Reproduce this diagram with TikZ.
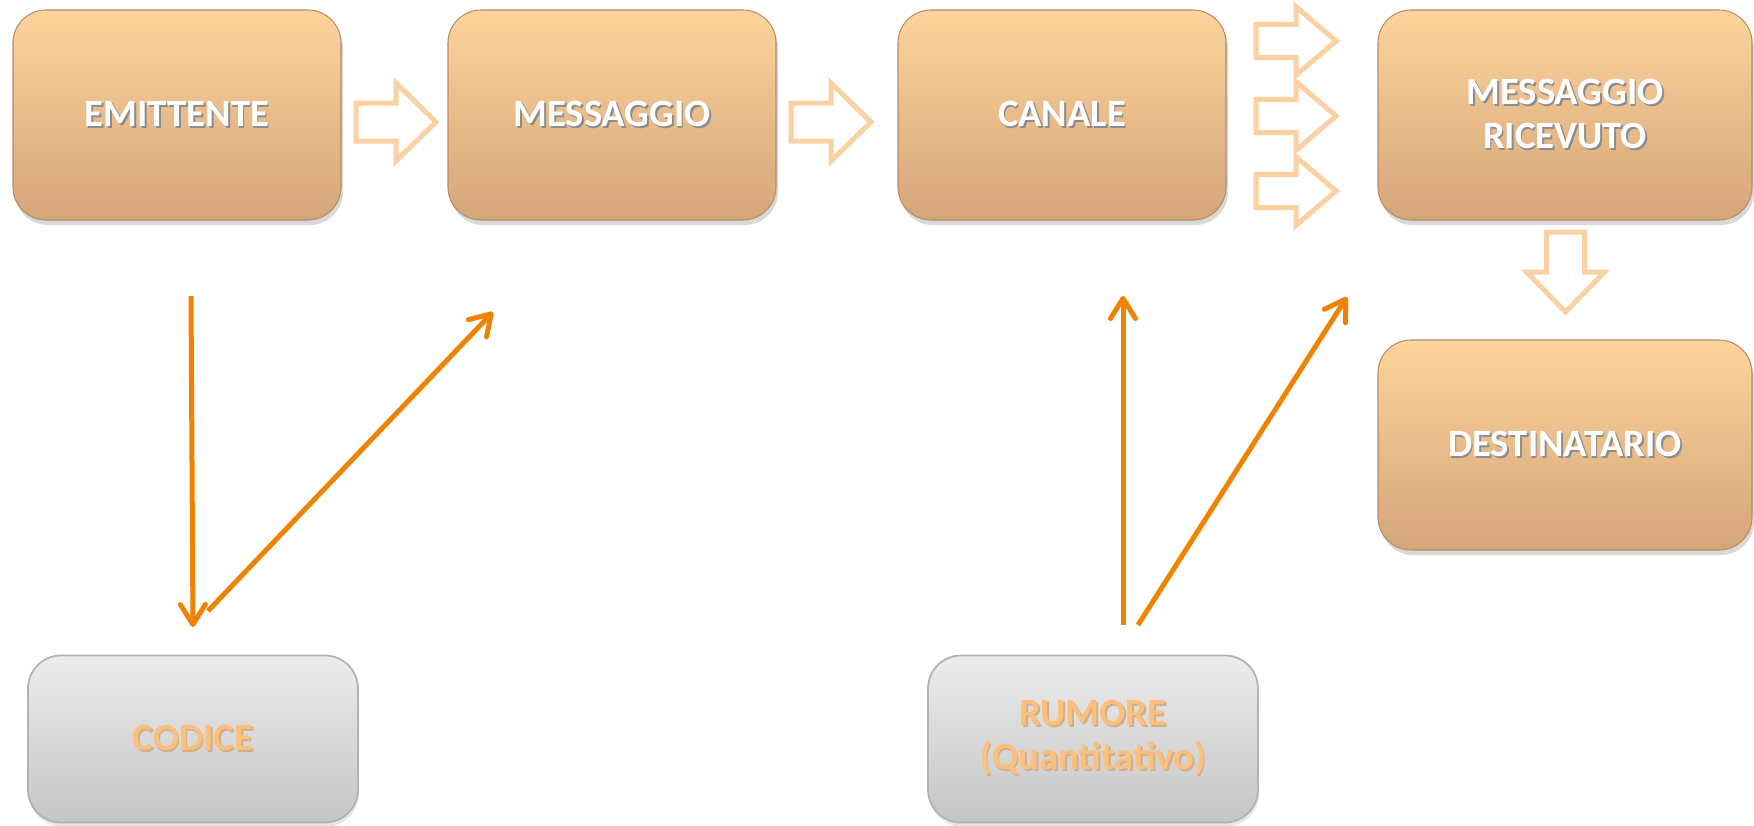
\documentclass[tikz,border=0pt]{standalone}
\usepackage{fontspec}
\setmainfont{Carlito}
\usetikzlibrary{arrows.meta,shadows}

\definecolor{peachtop}{RGB}{254,212,156}
\definecolor{peachbot}{RGB}{212,165,121}
\definecolor{peachline}{RGB}{251,208,162}
\definecolor{arrorange}{RGB}{237,131,0}
\definecolor{greytop}{RGB}{236,236,236}
\definecolor{greybot}{RGB}{197,197,197}
\definecolor{codtext}{RGB}{252,192,124}

% text with a small shadow under it
\newcommand{\shtext}[2]{\leavevmode\rlap{\kern0.5pt\raisebox{-0.6pt}{\color{#1}#2}}#2}

\begin{document}
\begin{tikzpicture}[
    peachbox/.style={rounded corners=0.33cm, minimum width=3.28cm, minimum height=2.1cm,
      inner sep=0pt, top color=peachtop, bottom color=peachbot, draw=peachbot!85!black,
      line width=0.3pt, text=white, align=center, font=\fontsize{11}{12.6}\selectfont\bfseries,
      drop shadow={shadow xshift=0.02cm, shadow yshift=-0.05cm, opacity=0.3}},
    greybox/.style={rounded corners=0.33cm, minimum width=3.3cm, minimum height=1.67cm,
      inner sep=0pt, top color=greytop, bottom color=greybot, draw=black!30,
      line width=0.5pt, text=codtext, align=center, font=\fontsize{11}{12.6}\selectfont\bfseries,
      drop shadow={shadow xshift=0.01cm, shadow yshift=-0.04cm, opacity=0.2}},
    hollow/.style={draw=peachline, line width=0.05cm, fill=white},
    flow/.style={draw=arrorange, line width=0.05cm, -{Straight Barb[length=0.2cm, width=0.25cm, round]}},
    pics/blockarrow/.style={code={
      \draw[hollow] (0,0.19) -- (0.4,0.19) -- (0.4,0.39) -- (0.8,0) -- (0.4,-0.39)
        -- (0.4,-0.19) -- (0,-0.19) -- cycle;}}
  ]
  \useasboundingbox (0,0) rectangle (17.54,-8.25);

  % top row
  \node[peachbox] (emittente) at (1.77,-1.15) {\shtext{black!45}{EMITTENTE}};
  \node[peachbox] (messaggio) at (6.12,-1.15) {\shtext{black!45}{MESSAGGIO}};
  \node[peachbox] (canale) at (10.62,-1.15) {\shtext{black!45}{CANALE}};
  \node[peachbox, minimum width=3.74cm] (ricevuto) at (15.65,-1.15)
    {\shtext{black!45}{MESSAGGIO}\\\shtext{black!45}{RICEVUTO}};
  \node[peachbox, minimum width=3.74cm] (destinatario) at (15.65,-4.45)
    {\shtext{black!45}{DESTINATARIO}};

  % bottom row
  \node[greybox] (codice) at (1.93,-7.39) {\shtext{orange!60!black!45}{CODICE}};
  \node[greybox] (rumore) at (10.93,-7.39)
    {\shtext{orange!60!black!45}{RUMORE}\\\shtext{orange!60!black!45}{(Quantitativo)}};

  % block arrows
  \pic at (3.56,-1.22) {blockarrow};
  \pic at (7.91,-1.22) {blockarrow};
  \foreach \y in {-0.41,-1.16,-1.91}
    \pic[yscale=0.88] at (12.56,\y) {blockarrow};
  \pic[rotate=-90] at (15.655,-2.32) {blockarrow};

  % orange arrows
  \coordinate (cod-a) at (1.91,-2.96);
  \coordinate (cod-b) at (1.93,-6.27);
  \coordinate (cod-c) at (2.08,-6.11);
  \coordinate (cod-d) at (4.93,-3.12);
  \coordinate (rum-a) at (11.23,-6.25);
  \coordinate (rum-b) at (11.23,-2.96);
  \coordinate (rum-c) at (11.38,-6.25);
  \coordinate (rum-d) at (13.47,-2.97);
  \draw[flow] (cod-a) -- (cod-b);
  \draw[flow] (cod-c) -- (cod-d);
  \draw[flow] (rum-a) -- (rum-b);
  \draw[flow] (rum-c) -- (rum-d);
\end{tikzpicture}
\end{document}
